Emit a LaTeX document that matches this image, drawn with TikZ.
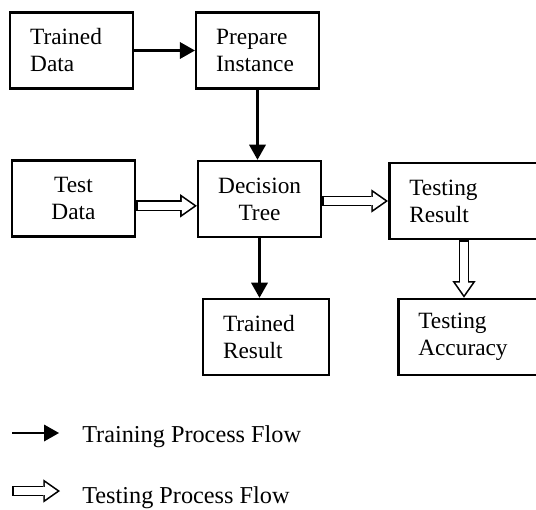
\documentclass[tikz,border=0pt]{standalone}
\usepackage{fontspec}
\setmainfont{Liberation Serif}
\usetikzlibrary{arrows.meta}

\begin{document}
\begin{tikzpicture}[x=0.75pt, y=-0.75pt,
    font=\fontsize{17.5pt}{20.25pt}\selectfont,
    stage/.style={draw, line width=1.9pt, inner xsep=15pt, inner ysep=0pt, minimum height=57pt, text width=62pt, align=left},
    keytext/.style={anchor=base west, inner sep=0pt, font=\fontsize{18.2pt}{21pt}\selectfont},
    trainflow/.style={line width=2pt, -{Triangle[length=11.25pt, width=12.75pt, line width=0pt]}},
    testflow/.style={line width=8.2pt, -{Triangle[length=12.5pt, width=17.5pt, line width=0pt]},
      postaction={draw=white, line width=5.8pt, shorten <=1.2pt, shorten >=2.15pt,
        -{Triangle[length=9.15pt, width=12.8pt, line width=0pt]}}}]
    \useasboundingbox (0, 0) rectangle (536, 510);
    \clip (0, 0) rectangle (536, 510);

    \node[stage] at (71.5, 50.5) (tdata) {Trained\\Data};
    \node[stage] at (257.5, 50.5) (prep) {Prepare\\Instance};
    \node[stage, align=center] at (73.5, 198.5) (tsdata) {Test\\Data};
    \node[stage, align=center] at (259.5, 199) (dtree) {Decision\\Tree};
    \node[stage, anchor=west, text width=110pt] at (388, 201) (tres) {Testing\\Result};
    \node[stage, text width=64.5pt] at (266, 337) (trres) {Trained\\Result};
    \node[stage, anchor=west, text width=110pt] at (397, 337) (tacc) {Testing\\Accuracy};

    \draw[trainflow] (tdata) -- (prep);
    \draw[trainflow] (prep.south) -- (prep.south |- dtree.north);
    \draw[trainflow] (dtree.south) -- (dtree.south |- trres.north);
    \draw[testflow] ([yshift=-5.5pt]tsdata.east) -- ([yshift=-5.5pt]tsdata.east -| dtree.west);
    \draw[testflow] (dtree.east |- tres.west) -- (tres.west);
    \draw[testflow] ([xshift=57pt]tres.south west) -- ([xshift=57pt]tres.south west |- tacc.north);

    \coordinate (k1a) at (12, 433);
    \coordinate (k1b) at (59, 433);
    \coordinate (k2a) at (12, 491);
    \coordinate (k2b) at (60, 491);
    \draw[trainflow] (k1a) -- (k1b);
    \draw[testflow] (k2a) -- (k2b);
    \node[keytext] at (82, 442) (k1) {Training Process Flow};
    \node[keytext] at (82, 503) (k2) {Testing Process Flow};
  \end{tikzpicture}
\end{document}
